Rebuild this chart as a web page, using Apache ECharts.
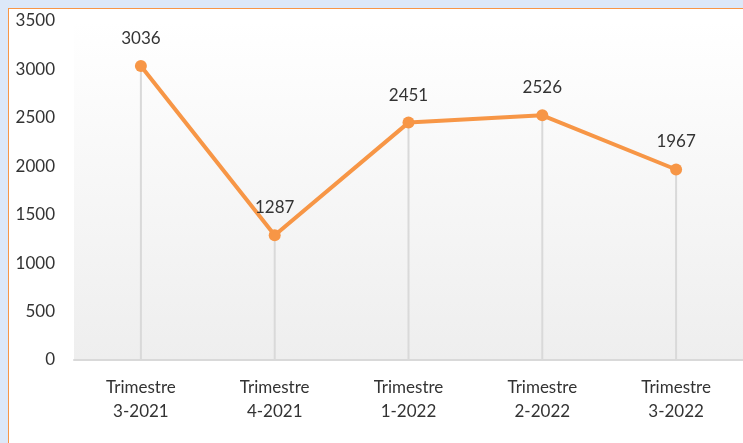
<!DOCTYPE html>
<html>
<head>
<meta charset="utf-8">
<script src="https://cdn.jsdelivr.net/npm/echarts@6/dist/echarts.min.js"></script>
<style>
    html, body { margin: 0; padding: 0; }
    body { width: 743px; height: 443px; background: #dce8f8; position: relative; overflow: hidden; }
    .frame { position: absolute; left: 8px; top: 8px; width: 760px; height: 460px; background: #fff; border: 1px solid #f79646; }
    #main { position: absolute; left: 0; top: 0; width: 743px; height: 443px; }
</style>
</head>
<body>
<div class="frame"></div>
<div id="main"></div>
<script>
  // données
  const categories = ['Trimestre\n3-2021', 'Trimestre\n4-2021', 'Trimestre\n1-2022', 'Trimestre\n2-2022', 'Trimestre\n3-2022'];
  const values = [3036, 1287, 2451, 2526, 1967];
  const yTicks = { min: 0, max: 3500, interval: 500 };

  const txt = '#333333';
  const font = 'Lato, "Open Sans", sans-serif';

  let myChart = echarts.init(document.getElementById('main'));
  myChart.setOption({
    animation: false,
    textStyle: { fontFamily: font },
    grid: {
      left: 74, right: -2, top: 21, bottom: 83,
      show: true,
      borderWidth: 0,
      backgroundColor: new echarts.graphic.LinearGradient(0, 0, 0, 1, [
        { offset: 0, color: '#ffffff' },
        { offset: 1, color: '#eeeeee' }
      ])
    },
    xAxis: {
      type: 'category',
      data: categories,
      boundaryGap: true,
      axisLine: { lineStyle: { color: '#d9d9d9', width: 2 } },
      axisTick: { show: false },
      axisLabel: { color: txt, fontSize: 17, lineHeight: 24, margin: 16, fontFamily: font }
    },
    yAxis: {
      type: 'value',
      min: yTicks.min, max: yTicks.max, interval: yTicks.interval,
      axisLine: { show: false },
      axisTick: { show: false },
      splitLine: { show: false },
      axisLabel: { color: txt, fontSize: 17, margin: 19, fontFamily: font, formatter: v => String(v) }
    },
    series: [
      {
        // lignes verticales sous les points
        type: 'bar',
        data: values,
        barWidth: 2,
        itemStyle: { color: '#d9d9d9' },
        z: 1,
        silent: true
      },
      {
        type: 'line',
        data: values,
        z: 3,
        lineStyle: { color: '#f79646', width: 4 },
        itemStyle: { color: '#f79646' },
        symbol: 'circle',
        symbolSize: 12,
        label: {
          show: true,
          position: 'top',
          distance: 13,
          color: txt,
          fontSize: 17,
          fontFamily: font
        }
      }
    ]
  });
</script>
</body>
</html>
